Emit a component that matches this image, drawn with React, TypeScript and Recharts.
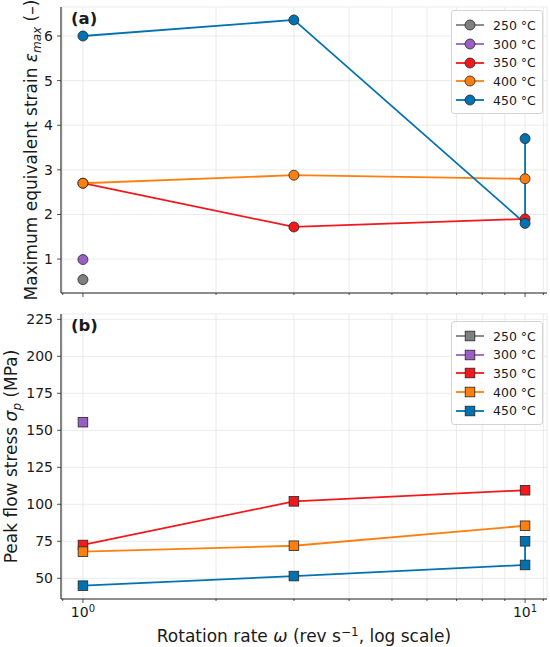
import React from "react";
import { LineChart, Line, XAxis, YAxis, CartesianGrid, Legend, Label } from "recharts";

const FONT = "'DejaVu Sans', sans-serif";
const INK = "#1a1a1a";
const FRAME = "#262626";

const temperatures = ["250 °C", "300 °C", "350 °C", "400 °C", "450 °C"];
const tempColors = ["#7f7f7f", "#9b5fc4", "#f2181c", "#ff7f0e", "#0072b2"];

// (a) maximum equivalent strain vs rotation rate
const strainRate250 = [1];
const strainRate300 = [1];
const strainRate350 = [1, 3, 10];
const strainRate400 = [1, 3, 10];
const strainRate450 = [1, 3, 10, 10];
const strain250 = [0.54];
const strain300 = [0.99];
const strain350 = [2.7, 1.72, 1.9];
const strain400 = [2.7, 2.88, 2.8];
const strain450 = [6.0, 6.36, 1.8, 3.7];

// (b) peak flow stress vs rotation rate
const stressRate250: number[] = [];
const stressRate300 = [1];
const stressRate350 = [1, 3, 10];
const stressRate400 = [1, 3, 10];
const stressRate450 = [1, 3, 10, 10];
const stress250: number[] = [];
const stress300 = [155.5];
const stress350 = [72.5, 102, 109.5];
const stress400 = [68, 72, 85.5];
const stress450 = [45, 51.5, 59, 75];

const xDomain = [0.892, 11.21];
const xTicks = [0.9, 1, 2, 3, 4, 5, 6, 7, 8, 9, 10, 11];
const xMajor = [1, 10];
const strainDomain = [0.24, 6.65];
const strainTicks = [1, 2, 3, 4, 5, 6];
const stressDomain = [36, 228.6];
const stressTicks = [50, 75, 100, 125, 150, 175, 200, 225];

const zip = (xs: number[], ys: number[]) => xs.map((x, i) => ({ x, y: ys[i] }));

const strainSeries = [
  zip(strainRate250, strain250),
  zip(strainRate300, strain300),
  zip(strainRate350, strain350),
  zip(strainRate400, strain400),
  zip(strainRate450, strain450),
];
const stressSeries = [
  zip(stressRate250, stress250),
  zip(stressRate300, stress300),
  zip(stressRate350, stress350),
  zip(stressRate400, stress400),
  zip(stressRate450, stress450),
];

type Shape = "circle" | "square";

function Marker({ cx, cy, color, shape }: { cx: number; cy: number; color: string; shape: Shape }) {
  if (cx == null || cy == null) return null;
  if (shape === "square") {
    return <rect x={cx - 4.8} y={cy - 4.8} width={9.6} height={9.6} fill={color} stroke={FRAME} strokeWidth={0.8} />;
  }
  return <circle cx={cx} cy={cy} r={5} fill={color} stroke={FRAME} strokeWidth={0.8} />;
}

function LogTick(props: any) {
  const { x, y, payload, showLabel } = props;
  const v = payload.value;
  const major = xMajor.includes(v);
  return (
    <g>
      <line x1={x} y1={y} x2={x} y2={y + (major ? 4 : 2)} stroke={FRAME} strokeWidth={0.8} />
      {showLabel && major && (
        <text x={x} y={y + 18} textAnchor="middle" fontFamily={FONT} fontSize={14} fill={INK}>
          10
          <tspan dy={-5.5} fontSize={10}>
            {Math.round(Math.log10(v))}
          </tspan>
        </text>
      )}
    </g>
  );
}

function legendContent(shape: Shape) {
  return (props: any) => {
    const items = [...(props.payload || [])].sort((a: any, b: any) => String(a.value).localeCompare(String(b.value)));
    return (
      <div
        style={{
          border: "1px solid #d4d4d4",
          borderRadius: 3,
          background: "rgba(255,255,255,0.85)",
          padding: "5px 0 4px 4px",
          width: 86,
          fontFamily: FONT,
          fontSize: 12.5,
          color: INK,
          boxSizing: "content-box",
        }}
      >
        {items.map((it: any) => (
          <div key={it.value} style={{ display: "flex", alignItems: "center", height: 18.7 }}>
            <svg width={28} height={12} style={{ marginRight: 9, overflow: "visible" }}>
              <line x1={0} y1={6} x2={28} y2={6} stroke={it.color} strokeWidth={1.8} />
              <Marker cx={14} cy={6} color={it.color} shape={shape} />
            </svg>
            <span>{it.value}</span>
          </div>
        ))}
      </div>
    );
  };
}

type PanelProps = {
  series: { x: number; y: number }[][];
  yDomain: number[];
  yTicks: number[];
  shape: Shape;
  height: number;
  marginTop: number;
  xAxisHeight: number;
  showXLabels: boolean;
  tag: string;
  titleX: number;
  title: React.ReactNode;
  legendTop: number;
};

function Panel(p: PanelProps) {
  return (
    <LineChart width={550} height={p.height} margin={{ top: p.marginTop, right: 3, bottom: 0, left: 0 }}>
      <CartesianGrid stroke="#e6e6e6" strokeWidth={0.8} />
      <XAxis
        dataKey="x"
        type="number"
        scale="log"
        domain={xDomain}
        allowDataOverflow
        ticks={xTicks}
        interval={0}
        height={p.xAxisHeight}
        tickSize={0}
        tickMargin={0}
        tickLine={false}
        axisLine={{ stroke: FRAME, strokeWidth: 1.1 }}
        tick={<LogTick showLabel={p.showXLabels} />}
      >
        {p.showXLabels && (
          <Label
            content={(lp: any) => {
              const vb = lp.viewBox;
              return (
                <text x={vb.x + vb.width / 2} y={vb.y + 42.5} textAnchor="middle" fontFamily={FONT} fontSize={17} fill={INK}>
                  {"Rotation rate "}
                  <tspan fontStyle="italic">ω</tspan>
                  {" (rev s"}
                  <tspan dy={-6} fontSize={12}>
                    {"−1"}
                  </tspan>
                  <tspan dy={6}>{", log scale)"}</tspan>
                </text>
              );
            }}
          />
        )}
      </XAxis>
      <XAxis
        xAxisId="top"
        orientation="top"
        type="number"
        scale="log"
        domain={xDomain}
        allowDataOverflow
        height={0}
        tick={false}
        tickLine={false}
        axisLine={{ stroke: FRAME, strokeWidth: 1.1 }}
      />
      <YAxis
        type="number"
        domain={p.yDomain}
        allowDataOverflow
        ticks={p.yTicks}
        interval={0}
        width={61}
        tickSize={4}
        tickMargin={4}
        tickLine={{ stroke: FRAME, strokeWidth: 0.8 }}
        axisLine={{ stroke: FRAME, strokeWidth: 1.1 }}
        tick={{ fontFamily: FONT, fontSize: 14, fill: INK }}
      >
        <Label
          content={(lp: any) => {
            const vb = lp.viewBox;
            const cy = vb.y + vb.height / 2;
            return (
              <g>
                <text
                  transform={`translate(${p.titleX}, ${cy}) rotate(-90)`}
                  textAnchor="middle"
                  fontFamily={FONT}
                  fontSize={17}
                  fill={INK}
                >
                  {p.title}
                </text>
                <text x={71} y={vb.y + 16.5} fontFamily={FONT} fontSize={16.5} fontWeight="bold" fill={INK}>
                  {p.tag}
                </text>
              </g>
            );
          }}
        />
      </YAxis>
      <YAxis
        yAxisId="right"
        orientation="right"
        type="number"
        domain={[0, 1]}
        width={0}
        tick={false}
        tickLine={false}
        axisLine={{ stroke: FRAME, strokeWidth: 1.1 }}
      />
      <Legend
        layout="vertical"
        align="center"
        verticalAlign="middle"
        wrapperStyle={{ top: p.legendTop, left: 451, width: "auto", height: "auto" }}
        content={legendContent(p.shape)}
      />
      {p.series.map((data, i) => (
        <Line
          key={temperatures[i]}
          data={data}
          dataKey="y"
          name={temperatures[i]}
          type="linear"
          stroke={tempColors[i]}
          strokeWidth={1.8}
          isAnimationActive={false}
          activeDot={false}
          dot={(dp: any) => (
            <Marker key={`${temperatures[i]}-${dp.index}`} cx={dp.cx} cy={dp.cy} color={tempColors[i]} shape={p.shape} />
          )}
        />
      ))}
    </LineChart>
  );
}

export default function App() {
  return (
    <div style={{ position: "absolute", left: 0, top: 0, width: 550, height: 647, background: "#fff" }}>
      <div style={{ position: "absolute", left: 0, top: 0 }}>
        <Panel
          series={strainSeries}
          yDomain={strainDomain}
          yTicks={strainTicks}
          shape="circle"
          height={300}
          marginTop={7}
          xAxisHeight={7}
          showXLabels={false}
          tag="(a)"
          titleX={37}
          legendTop={10}
          title={
            <>
              {"Maximum equivalent strain "}
              <tspan fontStyle="italic">ε</tspan>
              <tspan fontStyle="italic" fontSize={12} dy={4}>
                max
              </tspan>
              <tspan dy={-4}>{" (–)"}</tspan>
            </>
          }
        />
      </div>
      <div style={{ position: "absolute", left: 0, top: 300 }}>
        <Panel
          series={stressSeries}
          yDomain={stressDomain}
          yTicks={stressTicks}
          shape="square"
          height={347}
          marginTop={14}
          xAxisHeight={48}
          showXLabels={true}
          tag="(b)"
          titleX={16.5}
          legendTop={20.7}
          title={
            <>
              {"Peak flow stress "}
              <tspan fontStyle="italic">σ</tspan>
              <tspan fontStyle="italic" fontSize={12} dy={4}>
                p
              </tspan>
              <tspan dy={-4}>{" (MPa)"}</tspan>
            </>
          }
        />
      </div>
    </div>
  );
}
